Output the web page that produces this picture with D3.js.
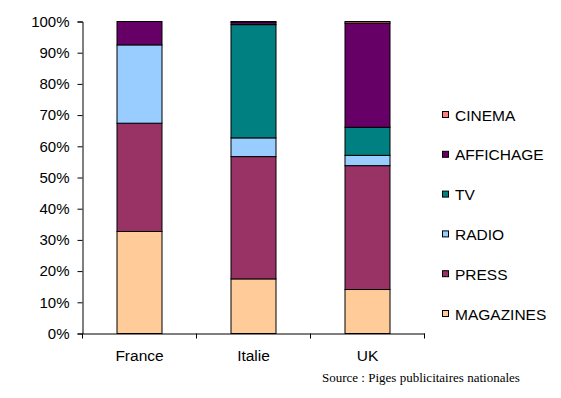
<!DOCTYPE html>
<html>
<head>
<meta charset="utf-8">
<script src="https://cdn.jsdelivr.net/npm/d3@7"></script>
<style>
  body { margin: 0; background: #fff; }
  text { font-family: "Liberation Sans", Arial, sans-serif; }
</style>
</head>
<body>
<div class="chart"></div>
<script>
// data (percent of each country's spend)
var countries = ["France", "Italie", "UK"];
var media = ["MAGAZINES", "PRESS", "RADIO", "TV", "AFFICHAGE", "CINEMA"];
var magazines = [32.7, 17.5, 14.1];
var press = [34.7, 39.2, 39.7];
var radio = [25.1, 6.0, 3.3];
var tv = [0, 36.3, 9.0];
var affichage = [7.5, 0.8, 33.4];
var cinema = [0, 0.2, 0.5];
var yTicks = [0, 10, 20, 30, 40, 50, 60, 70, 80, 90, 100];

var colors = ["#ffcc99", "#993366", "#99ccff", "#008080", "#660066", "#ff8080"];
var series = [magazines, press, radio, tv, affichage, cinema];

var svgWidth = 561;
var svgHeight = 398;
var margin = { top: 21, left: 82 };
var width = 342;
var height = 312;

var svg = d3.select(".chart")
  .append("svg")
  .attr("width", svgWidth)
  .attr("height", svgHeight);

var chart = svg.append("g")
  .attr("transform", "translate(" + margin.left + "," + margin.top + ")");

// build rows for the stack
var rows = countries.map(function(c, i) {
  var row = { country: c };
  media.forEach(function(m, j) { row[m] = series[j][i]; });
  return row;
});

var stacked = d3.stack().keys(media)(rows);

var xScale = d3.scaleBand().domain(countries).range([0, width]);
var yScale = d3.scaleLinear().domain([0, 100]).range([height, 0]);

var barWidth = 45;

// bars
chart.selectAll("g.layer")
  .data(stacked)
  .enter()
  .append("g")
  .attr("class", "layer")
  .attr("fill", function(d, i) { return colors[i]; })
  .selectAll("rect")
  .data(function(d) { return d; })
  .enter()
  .append("rect")
  .attr("x", function(d) { return xScale(d.data.country) + (xScale.bandwidth() - barWidth) / 2 + 0.5; })
  .attr("y", function(d) { return yScale(d[1]) + 0.5; })
  .attr("width", barWidth)
  .attr("height", function(d) { return Math.max(0, yScale(d[0]) - yScale(d[1])); })
  .attr("stroke", "#000")
  .attr("stroke-width", 1);

// y axis
var leftAxis = d3.axisLeft(yScale)
  .tickValues(yTicks)
  .tickSize(5)
  .tickPadding(8)
  .tickFormat(function(d) { return d + "%"; });

var yAxis = chart.append("g")
  .attr("transform", "translate(0.5,0.5)")
  .call(leftAxis);
yAxis.select(".domain").attr("stroke", "#000");
yAxis.selectAll("text")
  .attr("font-size", 15)
  .attr("font-family", "Liberation Sans, Arial, sans-serif")
  .attr("fill", "#000");

// x axis
var bottomAxis = d3.axisBottom(xScale).tickSize(0).tickPadding(16);
var xAxis = chart.append("g")
  .attr("transform", "translate(0.5," + (height + 0.5) + ")")
  .call(bottomAxis);
xAxis.select(".domain").attr("stroke", "#000");
xAxis.selectAll("text")
  .attr("font-size", 15.5)
  .attr("font-family", "Liberation Sans, Arial, sans-serif")
  .attr("fill", "#000");

// x tick marks sit between categories
xAxis.selectAll(".sep")
  .data(countries)
  .enter()
  .append("line")
  .attr("class", "sep")
  .attr("x1", function(d) { return xScale(d); })
  .attr("x2", function(d) { return xScale(d); })
  .attr("y1", 0)
  .attr("y2", 5)
  .attr("stroke", "#000");
xAxis.append("line")
  .attr("x1", width).attr("x2", width)
  .attr("y1", 0).attr("y2", 5)
  .attr("stroke", "#000");

// legend, top to bottom is reverse stack order
var legend = svg.append("g").attr("transform", "translate(442,115)");
var legendItems = legend.selectAll("g")
  .data(media.slice().reverse())
  .enter()
  .append("g")
  .attr("transform", function(d, i) { return "translate(0," + i * 39.8 + ")"; });

legendItems.append("rect")
  .attr("x", 0.5)
  .attr("y", -3.5)
  .attr("width", 6)
  .attr("height", 6)
  .attr("stroke", "#000")
  .attr("fill", function(d) { return colors[media.indexOf(d)]; });

legendItems.append("text")
  .attr("x", 13)
  .attr("y", 5.5)
  .attr("font-size", 15.5)
  .attr("fill", "#000")
  .text(function(d) { return d; });

// source note
svg.append("text")
  .attr("x", 322)
  .attr("y", 382)
  .attr("font-size", 13)
  .style("font-family", "Liberation Serif, Times New Roman, serif")
  .attr("fill", "#000")
  .text("Source : Piges publicitaires nationales");
</script>
</body>
</html>
